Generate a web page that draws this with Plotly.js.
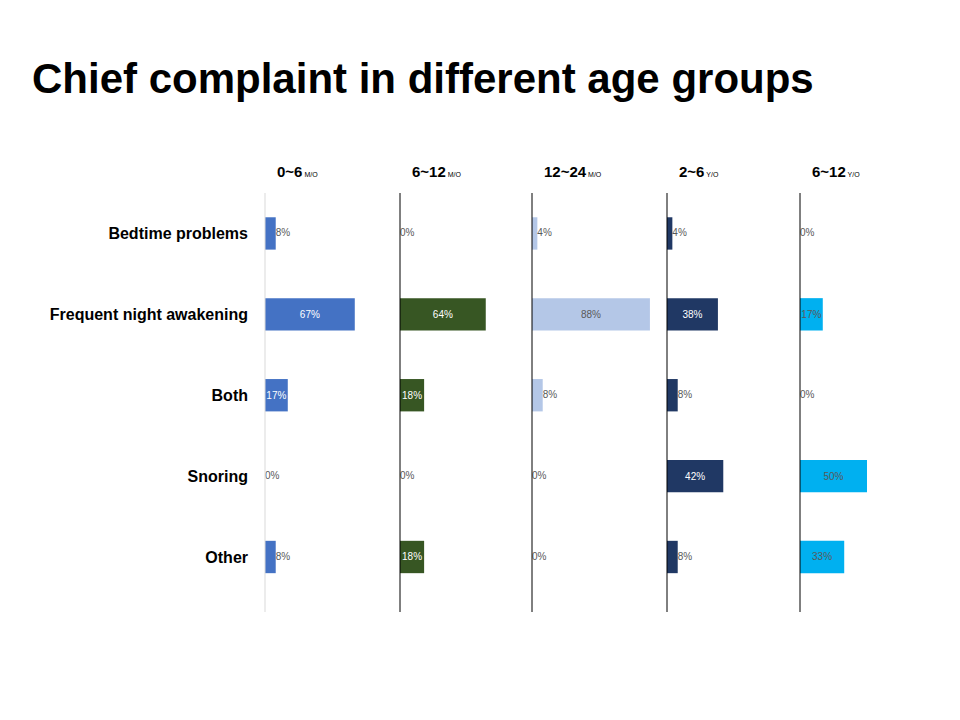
<!DOCTYPE html>
<html><head><meta charset="utf-8">
<script src="https://cdn.plot.ly/plotly-3.0.1.min.js"></script>
<style>body{margin:0}#c{width:960px;height:720px}</style></head>
<body><div id="c"></div>
<script>
const complaints = ['Bedtime problems', 'Frequent night awakening', 'Both', 'Snoring', 'Other'];
const groups = ['0~6', '6~12', '12~24', '2~6', '6~12'];
const units = ['M/O', 'M/O', 'M/O', 'Y/O', 'Y/O'];
const values = [
  [8, 67, 17, 0, 8],
  [0, 64, 18, 0, 18],
  [4, 88, 8, 0, 0],
  [4, 38, 8, 42, 8],
  [0, 17, 0, 50, 33]
];
const colors = ['#4472C4', '#375623', '#B4C7E7', '#203864', '#00B0F0'];
const textColors = ['#ffffff', '#ffffff', '#595959', '#ffffff', '#595959'];

const starts = [265, 400, 532, 667, 800];
const W = 960, H = 720;
const lf = 'Liberation Sans, Arial, sans-serif';
const data = [], shapes = [], layout = {
  width: W, height: H, margin: {l: 0, r: 0, t: 0, b: 0},
  paper_bgcolor: '#fff', plot_bgcolor: 'rgba(0,0,0,0)', showlegend: false,
  font: {family: lf},
  annotations: [{
    text: '<b>Chief complaint in different age groups</b>', xref: 'paper', yref: 'paper',
    x: 30 / W, y: 1 - 78 / H, xanchor: 'left', yanchor: 'middle', showarrow: false,
    font: {size: 42, color: '#000', family: lf}
  }]
};
groups.forEach((g, i) => {
  const n = i ? i + 1 : '';
  const vals = values[i];
  data.push({
    type: 'bar', orientation: 'h', x: vals, y: complaints,
    xaxis: 'x' + n, yaxis: 'y' + n,
    marker: {color: colors[i]}, width: 0.4,
    text: vals.map(v => v >= 15 ? v + '%' : ''), textposition: 'inside',
    insidetextanchor: 'middle', textangle: 0, constraintext: 'none',
    insidetextfont: {size: 10, color: textColors[i], family: lf},
    cliponaxis: false, hoverinfo: 'skip'
  });
  // small values labelled just right of the bar end
  const small = vals.map((v, k) => k).filter(k => vals[k] < 15);
  data.push({
    type: 'scatter', mode: 'text', xaxis: 'x' + n, yaxis: 'y' + n,
    x: small.map(k => vals[k]), y: small.map(k => complaints[k]),
    text: small.map(k => vals[k] + '%'), textposition: 'middle right',
    textfont: {size: 10, color: '#595959', family: lf}, cliponaxis: false, hoverinfo: 'skip'
  });
  const x0 = starts[i] / W;
  layout['xaxis' + n] = {domain: [x0, x0 + 134 / W], range: [0, 100], visible: false, anchor: 'y' + n};
  layout['yaxis' + n] = {
    domain: [1 - 612 / H, 1 - 193 / H], range: [4.68, -0.5], type: 'category',
    anchor: 'x' + n, showgrid: false, zeroline: false, ticks: '',
    showline: false, showticklabels: i === 0,
    tickfont: {size: 16, color: '#000', family: lf, weight: 'bold'},
    ticklabelstandoff: 16
  };
  shapes.push({type: 'line', xref: 'paper', yref: 'paper',
    x0: x0, x1: x0, y0: 1 - 612 / H, y1: 1 - 193 / H,
    line: {color: i === 0 ? '#d9d9d9' : '#000', width: 1}});
  layout.annotations.push({
    text: '<b>' + g + '</b><span style="font-size:7px"> ' + units[i] + '</span>',
    xref: 'paper', yref: 'paper', x: (starts[i] + 10) / W, y: 1 - 171 / H,
    xanchor: 'left', yanchor: 'middle', showarrow: false,
    font: {size: 15, color: '#000', family: lf}
  });
});
layout.shapes = shapes;
Plotly.newPlot('c', data, layout, {displayModeBar: false, staticPlot: true});
</script></body></html>
